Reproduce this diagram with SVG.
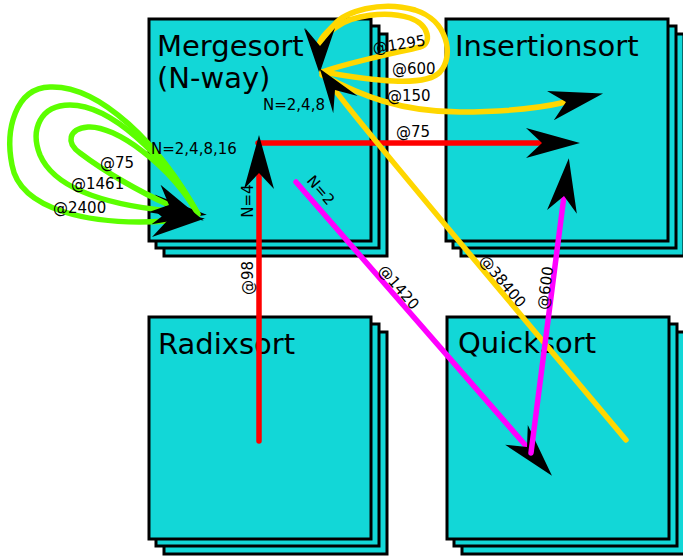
<svg xmlns="http://www.w3.org/2000/svg" width="683" height="556" viewBox="0 0 683 556">
  <style>
    .sheet { fill: #12d7d7; stroke: #000; stroke-width: 3; }
    .title { font-family: "DejaVu Sans", "Liberation Sans", sans-serif; font-size: 29px; fill: #000; }
    .lbl { font-family: "DejaVu Sans", "Liberation Sans", sans-serif; font-size: 15px; fill: #000; }
    .mid { text-anchor: middle; }
    .edge { fill: none; stroke-width: 5.5; stroke-linecap: round; }
    .red { stroke: #ff0000; }
    .gold { stroke: #ffd700; }
    .pink { stroke: #ff00ff; }
    .lime { stroke: #5cff00; }
    .big { marker-end: url(#vee); }
    .small { marker-end: url(#veeSmall); }
  </style>
  <defs>
    <!-- swept arrowhead; reference point sits in the notch where the line stops -->
    <marker id="vee" markerUnits="userSpaceOnUse" viewBox="-20 -20 80 40" markerWidth="80" markerHeight="40" refX="0" refY="0" orient="auto" overflow="visible">
      <path d="M38,0 L-16,-15 L0,0 L-16,15 Z" fill="#000"/>
    </marker>
    <marker id="veeSmall" markerUnits="userSpaceOnUse" viewBox="-20 -20 60 40" markerWidth="60" markerHeight="40" refX="0" refY="0" orient="auto" overflow="visible">
      <path d="M26,0 L-18,-15 L0,0 L-18,15 Z" fill="#000"/>
    </marker>
    <!-- stacked sheets for one node -->
    <g id="stack">
      <rect class="sheet" x="15" y="15" width="223" height="222"/>
      <rect class="sheet" x="7" y="7" width="223" height="222"/>
      <rect class="sheet" x="0" y="0" width="222" height="222"/>
    </g>
  </defs>

  <rect width="683" height="556" fill="#fff"/>

  <g id="nodes">
    <g id="mergesort">
      <use href="#stack" x="149" y="19"/>
      <text class="title" x="157" y="56">Mergesort</text>
      <text class="title" x="157" y="88">(N-way)</text>
    </g>
    <g id="insertionsort">
      <use href="#stack" x="446" y="19"/>
      <text class="title" x="455" y="56">Insertionsort</text>
    </g>
    <g id="radixsort">
      <use href="#stack" x="149" y="317"/>
      <text class="title" x="158" y="354">Radixsort</text>
    </g>
    <g id="quicksort">
      <use href="#stack" x="447" y="317"/>
      <text class="title" x="458" y="353">Quicksort</text>
    </g>
  </g>

  <g id="connectors">
    <!-- Mergesort self loops (green) -->
    <path class="edge lime big" d="M198,214 C160,145 100,85 50,87 C15,88 5,130 12,165 C20,210 90,226 167,221"/>
    <path class="edge lime big" d="M198,214 C165,155 110,105 70,105 C40,105 30,130 40,155 C55,190 110,205 169,211"/>
    <path class="edge lime big" d="M198,214 C170,165 115,125 88,127 C68,129 66,143 80,153 C105,172 140,192 169,205"/>

    <!-- Mergesort self loops (gold) -->
    <path class="edge gold small" d="M322,72 C370,80 425,88 440,72 C455,55 447,20 415,10 C380,0 345,12 335,24 C325,34 319,40 319,46"/>
    <path class="edge gold small" d="M322,72 C350,62 400,52 420,47 C432,44 430,25 410,18 C385,10 352,16 338,26 C326,34 320,40 320,46"/>

    <!-- Mergesort -> Insertionsort -->
    <path class="edge gold big" d="M322,75 C360,95 400,112 460,112 C500,112 540,108 566,102"/>
    <path class="edge red big" d="M258,143 L542,143"/>

    <!-- Quicksort -> Mergesort -->
    <path class="edge gold small" d="M626,440 C500,290 360,125 335,90"/>

    <!-- Radixsort -> Mergesort -->
    <path class="edge red big" d="M259,441 L259,173"/>

    <!-- Mergesort -> Quicksort -->
    <path class="edge pink big" d="M296,182 L527,447"/>

    <!-- Quicksort -> Insertionsort -->
    <path class="edge pink big" d="M531,453 L564,196"/>

    <!-- edge labels -->
    <text class="lbl" x="100" y="168">@75</text>
    <text class="lbl" x="71" y="189">@1461</text>
    <text class="lbl" x="53" y="213">@2400</text>
    <text class="lbl" x="151" y="154">N=2,4,8,16</text>
    <text class="lbl" x="263" y="110">N=2,4,8</text>
    <text class="lbl mid" transform="translate(399,44) rotate(-9)" y="5.5">@1295</text>
    <text class="lbl" x="392" y="74">@600</text>
    <text class="lbl" x="387" y="101">@150</text>
    <text class="lbl" x="396" y="137">@75</text>
    <text class="lbl mid" transform="translate(253,201) rotate(-90)">N=4</text>
    <text class="lbl mid" transform="translate(253,278) rotate(-90)">@98</text>
    <text class="lbl mid" transform="translate(321,190) rotate(49)" y="5.5">N=2</text>
    <text class="lbl mid" transform="translate(399,287) rotate(49)" y="5.5">@1420</text>
    <text class="lbl mid" transform="translate(503,281) rotate(50)" y="5.5">@38400</text>
    <text class="lbl mid" transform="translate(545,288) rotate(-82.6)" y="5.5">@600</text>
  </g>
</svg>
